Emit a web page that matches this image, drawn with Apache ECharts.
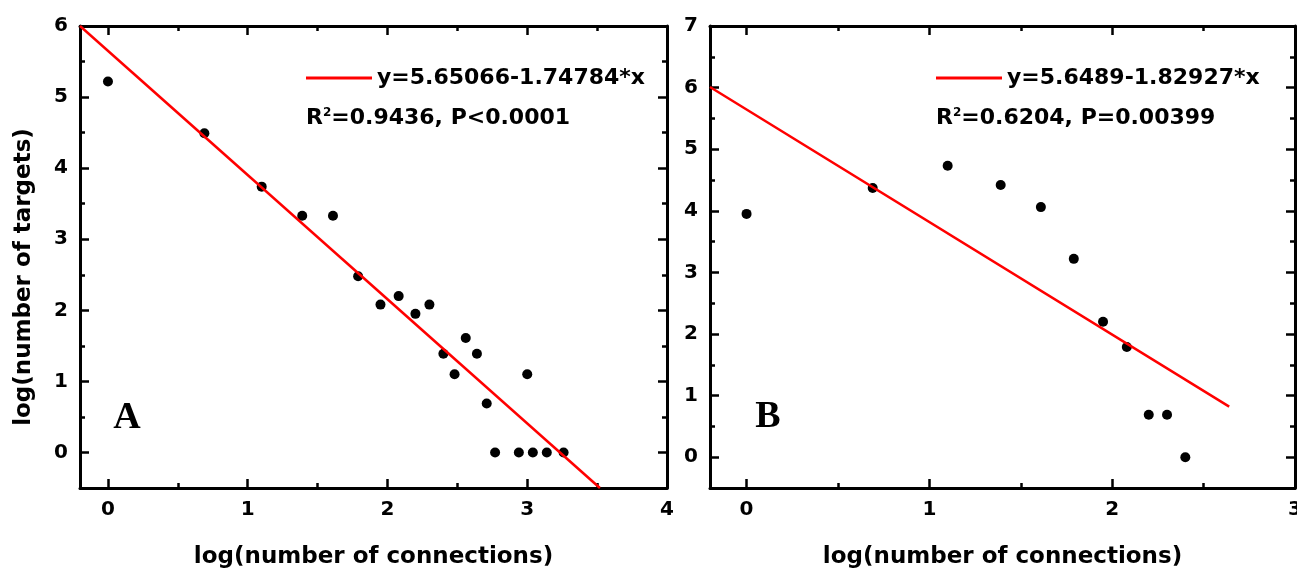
<!DOCTYPE html>
<html>
<head>
<meta charset="utf-8">
<title>log-log fits</title>
<script src="https://cdn.jsdelivr.net/npm/echarts@6/dist/echarts.min.js"></script>
<style>
  html, body { margin: 0; padding: 0; background: #fff; }
  #chart { width: 1297px; height: 575px; }
</style>
</head>
<body>
<div id="chart"></div>
<script>
// panel A data: log(number of connections) vs log(number of targets)
var xA = [0, 0.69, 1.10, 1.39, 1.61, 1.79, 1.95, 2.08, 2.20, 2.30, 2.40, 2.48, 2.56, 2.64, 2.71, 2.77, 2.94, 3.00, 3.04, 3.14, 3.26];
var yA = [5.22, 4.49, 3.74, 3.33, 3.33, 2.48, 2.08, 2.20, 1.95, 2.08, 1.39, 1.10, 1.61, 1.39, 0.69, 0, 0, 1.10, 0, 0, 0];
var fitA = [[-0.2, 6.0], [3.52, -0.5]];
var nameA = 'y=5.65066-1.74784*x';
var statA = ['R', '2', '=0.9436, P<0.0001'];

// panel B data
var xB = [0, 0.69, 1.10, 1.39, 1.61, 1.79, 1.95, 2.08, 2.20, 2.30, 2.40];
var yB = [3.95, 4.37, 4.73, 4.42, 4.06, 3.22, 2.20, 1.79, 0.69, 0.69, 0];
var fitB = [[-0.2, 6.01], [2.64, 0.82]];
var nameB = 'y=5.6489-1.82927*x';
var statB = ['R', '2', '=0.6204, P=0.00399'];

// ticks
var xTicksA = [0, 1, 2, 3, 4];
var xMinorA = [0.5, 1.5, 2.5, 3.5];
var yTicksA = [0, 1, 2, 3, 4, 5, 6];
var yMinorA = [0.5, 1.5, 2.5, 3.5, 4.5, 5.5];
var xTicksB = [0, 1, 2, 3];
var xMinorB = [0.5, 1.5, 2.5];
var yTicksB = [0, 1, 2, 3, 4, 5, 6, 7];
var yMinorB = [0.5, 1.5, 2.5, 3.5, 4.5, 5.5, 6.5];

var FONT = 'DejaVu Sans';

function pairs(xs, ys) {
  return xs.map(function (x, i) { return [x, ys[i]]; });
}

// main + minor axis on each side of a grid
function sideAxes(grid, sides, min, max, majors, minors) {
  var out = [];
  sides.forEach(function (pos, k) {
    out.push({
      type: 'value', gridIndex: grid, position: pos, min: min, max: max,
      axisLine: { show: true, onZero: false, lineStyle: { color: '#000', width: 3 } },
      axisTick: { show: true, inside: true, length: 9, customValues: majors, lineStyle: { color: '#000', width: 2.5 } },
      axisLabel: {
        show: k === 0, customValues: majors, margin: 12, hideOverlap: false,
        color: '#000', fontFamily: FONT, fontWeight: 'bold', fontSize: 20
      },
      splitLine: { show: false }
    });
    out.push({
      type: 'value', gridIndex: grid, position: pos, min: min, max: max,
      axisLine: { show: false, onZero: false },
      axisTick: { show: true, inside: true, length: 5, customValues: minors, lineStyle: { color: '#000', width: 2.5 } },
      axisLabel: { show: false },
      splitLine: { show: false }
    });
  });
  return out;
}

var xAxes = [].concat(
  sideAxes(0, ['bottom', 'top'], -0.2, 4, xTicksA, xMinorA),
  sideAxes(1, ['bottom', 'top'], -0.2, 3, xTicksB, xMinorB)
);
var yAxes = [].concat(
  sideAxes(0, ['left', 'right'], -0.5, 6, yTicksA, yMinorA),
  sideAxes(1, ['left', 'right'], -0.5, 7, yTicksB, yMinorB)
);
[0, 4].forEach(function (i) {
  xAxes[i].name = 'log(number of connections)';
  xAxes[i].nameLocation = 'middle';
  xAxes[i].nameGap = 58;
  xAxes[i].nameTextStyle = { color: '#000', fontFamily: FONT, fontWeight: 'bold', fontSize: 23 };
});

var richStat = {
  r: { fontFamily: FONT, fontWeight: 'bold', fontSize: 22, color: '#000' },
  s: { fontFamily: FONT, fontWeight: 'bold', fontSize: 12, color: '#000', verticalAlign: 'top' }
};
function statText(parts) {
  return '{r|' + parts[0] + '}{s|' + parts[1] + '}{r|' + parts[2] + '}';
}

var legendBase = {
  icon: 'rect', itemWidth: 66, itemHeight: 3, padding: 0,
  textStyle: { color: '#000', fontFamily: FONT, fontWeight: 'bold', fontSize: 22 }
};

var option = {
  backgroundColor: '#fff',
  animation: false,
  grid: [
    { left: 80, top: 26, width: 587, height: 462, outerBoundsMode: 'none', containLabel: false },
    { left: 710, top: 26, width: 585, height: 462, outerBoundsMode: 'none', containLabel: false }
  ],
  xAxis: xAxes,
  yAxis: yAxes,
  legend: [
    Object.assign({ data: [nameA], left: 306, top: 67 }, legendBase),
    Object.assign({ data: [nameB], left: 936, top: 67 }, legendBase)
  ],
  graphic: [
    { type: 'text', left: 306, top: 107, style: { text: statText(statA), rich: richStat } },
    { type: 'text', left: 936, top: 107, style: { text: statText(statB), rich: richStat } },
    { type: 'text', x: 127, y: 418, style: { text: 'A', fontFamily: 'Liberation Serif', fontWeight: 'bold', fontSize: 38, fill: '#000', align: 'center', verticalAlign: 'middle' } },
    { type: 'text', x: 768, y: 417, style: { text: 'B', fontFamily: 'Liberation Serif', fontWeight: 'bold', fontSize: 38, fill: '#000', align: 'center', verticalAlign: 'middle' } },
    { type: 'text', x: 24, y: 277, rotation: Math.PI / 2, style: { text: 'log(number of targets)', fontFamily: FONT, fontWeight: 'bold', fontSize: 23, fill: '#000', align: 'center', verticalAlign: 'middle' } }
  ],
  series: [
    {
      type: 'scatter', xAxisIndex: 0, yAxisIndex: 0, data: pairs(xA, yA),
      symbolSize: 10, itemStyle: { color: '#000', opacity: 1 }
    },
    {
      name: nameA, type: 'line', xAxisIndex: 0, yAxisIndex: 0, data: fitA,
      symbol: 'none', lineStyle: { color: '#ff0000', width: 2.5 }, itemStyle: { color: '#ff0000' }
    },
    {
      type: 'scatter', xAxisIndex: 4, yAxisIndex: 4, data: pairs(xB, yB),
      symbolSize: 10, itemStyle: { color: '#000', opacity: 1 }
    },
    {
      name: nameB, type: 'line', xAxisIndex: 4, yAxisIndex: 4, data: fitB,
      symbol: 'none', lineStyle: { color: '#ff0000', width: 2.5 }, itemStyle: { color: '#ff0000' }
    }
  ]
};

var myChart = echarts.init(document.getElementById('chart'));
myChart.setOption(option);
</script>
</body>
</html>
